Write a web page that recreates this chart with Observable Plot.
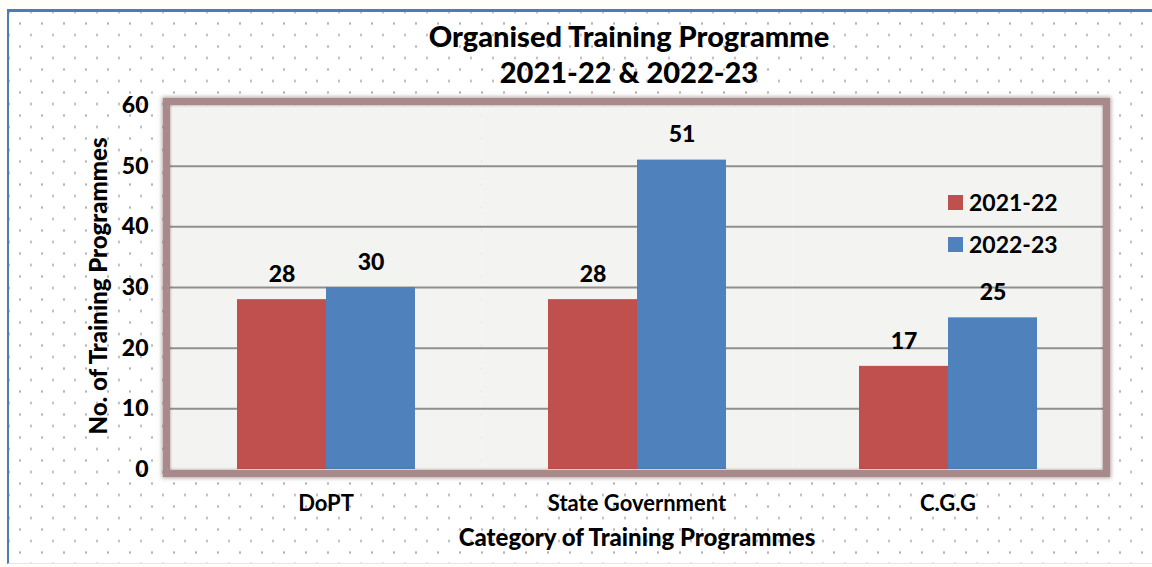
<!DOCTYPE html>
<html>
<head>
<meta charset="utf-8">
<script src="https://cdn.jsdelivr.net/npm/d3@7"></script>
<script src="https://cdn.jsdelivr.net/npm/@observablehq/plot@0.6"></script>
<style>
  body { margin: 0; background: #fff; }
  #wrap { position: relative; width: 1152px; height: 567px; overflow: hidden; background: #fffef8; font-family: Lato, "Open Sans", sans-serif; }
  #panel { position: absolute; left: 7px; top: 9px; width: 1160px; height: 551px; border-top: 3px solid #4a7ebb; border-left: 2px solid #4a7ebb; border-bottom: 1px solid #e6e6e6;
    background-color: #fff;
    background-image: radial-gradient(circle, #b5b5b5 0.9px, transparent 1.5px), radial-gradient(circle, #b5b5b5 0.9px, transparent 1.5px);
    background-size: 22px 23px; background-position: 0 0, 11px 11.5px; }
  .t { position: absolute; color: #000; font-weight: 900; white-space: nowrap; }
  #title { left: 0; width: 1258px; top: 18px; text-align: center; font-size: 29px; line-height: 36px; }
  #plotbox { position: absolute; left: 0; top: 0; }
  #border { position: absolute; left: 163px; top: 98px; width: 933px; height: 365px; border: 7px solid #a88a8a; box-shadow: 0 0 4px 1px rgba(120,80,80,0.55), inset 0 0 3px rgba(90,50,50,0.6); pointer-events: none; }
  #ytitle { left: 97px; top: 286px; font-size: 24px; transform: translate(-50%, -50%) rotate(-90deg); }
  #xtitle { left: 637px; top: 536px; font-size: 24px; transform: translate(-50%, -50%); }
  #legend { position: absolute; left: 948px; top: 181px; font-size: 23px; font-weight: 700; }
  .li { display: flex; align-items: center; height: 42px; }
  .sw { width: 15px; height: 15px; margin-right: 6px; }
</style>
</head>
<body>
<div id="wrap">
  <div id="panel"></div>
  <div id="plotbox"></div>
  <div id="border"></div>
  <div class="t" id="title">Organised Training Programme<br>2021-22 &amp; 2022-23</div>
  <div class="t" id="ytitle">No. of Training Programmes</div>
  <div class="t" id="xtitle">Category of Training Programmes</div>
  <div id="legend"></div>
</div>
<script>
const categories = ["DoPT", "State Government", "C.G.G"];
const seriesNames = ["2021-22", "2022-23"];
const values2021 = [28, 28, 17];
const values2022 = [30, 51, 25];
const yTicks = [0, 10, 20, 30, 40, 50, 60];
const colors = ["#c0504d", "#4f81bd"];

const data = [];
categories.forEach((c, i) => {
  data.push({category: c, series: seriesNames[0], value: values2021[i]});
  data.push({category: c, series: seriesNames[1], value: values2022[i]});
});

const chart = Plot.plot({
  width: 1152,
  height: 567,
  marginLeft: 170,
  marginRight: 49,
  marginTop: 105,
  marginBottom: 98,
  style: {background: "transparent", fontFamily: "Lato, 'Open Sans', sans-serif", color: "#000"},
  facet: {data, x: "category"},
  fx: {domain: categories, padding: 0, label: null, tickSize: 0, tickPadding: 26},
  x: {domain: seriesNames, paddingInner: 0, paddingOuter: 0.747, axis: null},
  y: {domain: [0, 60], ticks: yTicks, tickSize: 0, tickPadding: 22, label: null},
  color: {domain: seriesNames, range: colors},
  marks: [
    Plot.frame({fill: "#f3f3f1", stroke: null}),
    Plot.ruleY(yTicks.filter(d => d > 0 && d < 60), {stroke: "#8f8f8f", strokeWidth: 2}),
    Plot.barY(data, {x: "series", y: "value", fill: "series"}),
    Plot.text(data, {x: "series", y: "value", text: d => String(d.value), dy: -25, fontSize: 23, fontWeight: 900, fill: "#000"})
  ]
});

d3.select(chart).selectAll("[aria-label='y-axis'] text, [aria-label='y-axis tick label'] text").attr("font-size", 23).attr("font-weight", 900);
d3.select(chart).selectAll("[aria-label='fx-axis'] text, [aria-label='fx-axis tick label'] text").attr("font-size", 22).attr("font-weight", 700);
document.getElementById("plotbox").appendChild(chart);

const legend = d3.select("#legend");
seriesNames.forEach((s, i) => {
  const row = legend.append("div").attr("class", "li");
  row.append("div").attr("class", "sw").style("background", colors[i]);
  row.append("span").text(s);
});
</script>
</body>
</html>
